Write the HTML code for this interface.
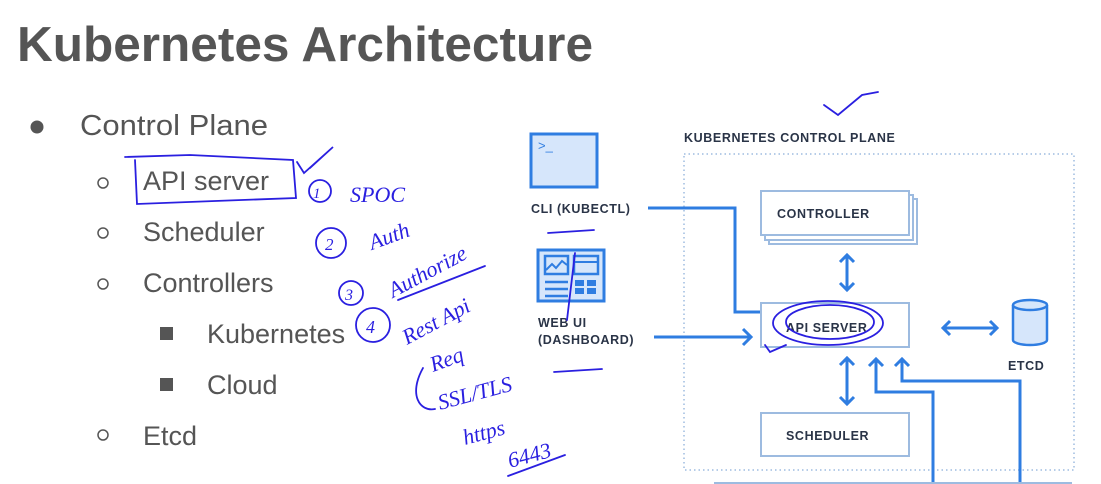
<!DOCTYPE html>
<html><head><meta charset="utf-8"><style>
html,body{margin:0;padding:0;background:#fff;}
svg{display:block;}
</style></head><body>
<svg width="1101" height="484" viewBox="0 0 1101 484" xmlns="http://www.w3.org/2000/svg">
<rect width="1101" height="484" fill="#fff"/>
<g font-family="Liberation Sans, sans-serif" fill="#555">
<text x="17" y="61" font-size="49" font-weight="bold" textLength="576" lengthAdjust="spacingAndGlyphs">Kubernetes Architecture</text>
<text x="80" y="135" font-size="29" textLength="188" lengthAdjust="spacingAndGlyphs">Control Plane</text>
<text x="143" y="190" font-size="27">API server</text>
<text x="143" y="241" font-size="27">Scheduler</text>
<text x="143" y="292" font-size="27">Controllers</text>
<text x="207" y="343" font-size="27">Kubernetes</text>
<text x="207" y="394" font-size="27">Cloud</text>
<text x="143" y="445" font-size="27">Etcd</text>
</g>
<circle cx="37" cy="127" r="6.5" fill="#555"/>
<g fill="none" stroke="#555" stroke-width="1.5">
<circle cx="103" cy="183" r="5"/><circle cx="103" cy="233" r="5"/><circle cx="103" cy="284" r="5"/><circle cx="103" cy="435" r="5"/>
</g>
<rect x="160" y="327" width="13" height="13" fill="#555"/>
<rect x="160" y="378" width="13" height="13" fill="#555"/>

<!-- diagram -->
<rect x="684" y="154" width="390" height="316" fill="none" stroke="#9dbbe0" stroke-width="1.5" stroke-dasharray="1.5,3"/>
<!-- CLI icon -->
<rect x="531" y="134" width="66" height="53" fill="#d6e6fb" stroke="#2f7de1" stroke-width="3"/>
<text x="538" y="150" font-family="Liberation Sans, sans-serif" font-size="13" fill="#2f7de1">&gt;_</text>
<!-- Web UI icon -->
<rect x="538" y="250" width="66" height="51" fill="#d6e6fb" stroke="#2f7de1" stroke-width="3"/>
<rect x="545" y="256" width="23" height="18" fill="none" stroke="#2f7de1" stroke-width="2.5"/>
<polyline points="546,270 552,264 556,268 562,261 567,265" fill="none" stroke="#2f7de1" stroke-width="2"/>
<rect x="574" y="256" width="24" height="18" fill="none" stroke="#2f7de1" stroke-width="2.5"/>
<line x1="574" y1="262" x2="598" y2="262" stroke="#2f7de1" stroke-width="2"/>
<g stroke="#2f7de1" stroke-width="2.5"><line x1="545" y1="282" x2="568" y2="282"/><line x1="545" y1="289" x2="568" y2="289"/><line x1="545" y1="296" x2="568" y2="296"/></g>
<g fill="#2f7de1"><rect x="575" y="280" width="9" height="6"/><rect x="587" y="280" width="9" height="6"/><rect x="575" y="288" width="9" height="6"/><rect x="587" y="288" width="9" height="6"/></g>
<!-- boxes -->
<g fill="#fff" stroke="#9dbbe0" stroke-width="2">
<rect x="769" y="199" width="148" height="45"/>
<rect x="765" y="195" width="148" height="45"/>
<rect x="761" y="191" width="148" height="44"/>
<rect x="761" y="303" width="148" height="44"/>
<rect x="761" y="413" width="148" height="43"/>
</g>
<g font-family="Liberation Sans, sans-serif" font-weight="bold" fill="#2a3447" font-size="12.5" letter-spacing="0.6">
<text x="684" y="142">KUBERNETES CONTROL PLANE</text>
<text x="531" y="213">CLI (KUBECTL)</text>
<text x="538" y="327">WEB UI</text>
<text x="538" y="344">(DASHBOARD)</text>
<text x="777" y="218">CONTROLLER</text>
<text x="786" y="332">API SERVER</text>
<text x="786" y="440">SCHEDULER</text>
<text x="1008" y="370">ETCD</text>
</g>
<!-- connectors -->
<g fill="none" stroke="#2f7de1" stroke-width="3">
<polyline points="648,208 735,208 735,312 760,312"/>
<line x1="654" y1="337" x2="750" y2="337"/>
<polyline points="743,329 751,337 743,345"/>
<line x1="847" y1="255" x2="847" y2="290"/>
<polyline points="840,262 847,255 854,262"/><polyline points="840,283 847,290 854,283"/>
<line x1="847" y1="358" x2="847" y2="404"/>
<polyline points="840,365 847,358 854,365"/><polyline points="840,397 847,404 854,397"/>
<polyline points="876,359 876,392 933,392 933,484"/>
<polyline points="869,366 876,359 883,366"/>
<polyline points="902,359 902,381 1020,381 1020,484"/>
<polyline points="895,366 902,359 909,366"/>
<line x1="943" y1="328" x2="997" y2="328"/>
<polyline points="950,321 943,328 950,335"/><polyline points="990,321 997,328 990,335"/>
</g>
<line x1="714" y1="483" x2="1072" y2="483" stroke="#9dbbe0" stroke-width="2"/>
<!-- ETCD cylinder -->
<path d="M1013,305 L1013,340 A17,5 0 0 0 1047,340 L1047,305" fill="#d6e6fb" stroke="#2f7de1" stroke-width="2.5"/>
<ellipse cx="1030" cy="305" rx="17" ry="5" fill="#d6e6fb" stroke="#2f7de1" stroke-width="2.5"/>

<!-- handwriting -->
<g fill="none" stroke="#2a1fe0" stroke-width="1.8" stroke-linecap="round">
<path d="M125,157 L190,155 L293,160 L296,198 L215,201 L137,204 L135,160"/>
<path d="M297,162 L304,173 L333,147 L310,168"/>
<path d="M824,105 L838,115 L862,95 L878,92"/>
<ellipse cx="828" cy="323" rx="55" ry="22"/>
<ellipse cx="830" cy="322" rx="44" ry="17"/>
<path d="M786,345 L770,352 L765,345"/>
<line x1="575" y1="253" x2="567" y2="320"/>
<path d="M548,233 L594,230"/>
<path d="M554,372 L602,369"/>
<circle cx="320" cy="191" r="11"/>
<circle cx="331" cy="243" r="15"/>
<circle cx="351" cy="293" r="12"/>
<circle cx="373" cy="325" r="17"/>
<path d="M398,300 L485,266"/>
<path d="M508,476 L565,455"/>
<path d="M423,368 C408,395 420,412 435,409"/>
</g>
<g font-family="Liberation Serif, serif" font-style="italic" fill="#2a1fe0" font-size="22">
<text x="313" y="198" font-size="15">1</text>
<text x="325" y="250" font-size="17">2</text>
<text x="345" y="300" font-size="16">3</text>
<text x="366" y="333" font-size="18">4</text>
<text x="350" y="202">SPOC</text>
<text x="372" y="250" transform="rotate(-20 372 250)">Auth</text>
<text x="393" y="298" transform="rotate(-28 393 298)">Authorize</text>
<text x="407" y="345" transform="rotate(-28 407 345)">Rest Api</text>
<text x="433" y="372" transform="rotate(-20 433 372)">Req</text>
<text x="440" y="410" transform="rotate(-15 440 410)">SSL/TLS</text>
<text x="465" y="445" transform="rotate(-15 465 445)">https</text>
<text x="510" y="468" transform="rotate(-15 510 468)">6443</text>
</g>
</svg>
</body></html>
